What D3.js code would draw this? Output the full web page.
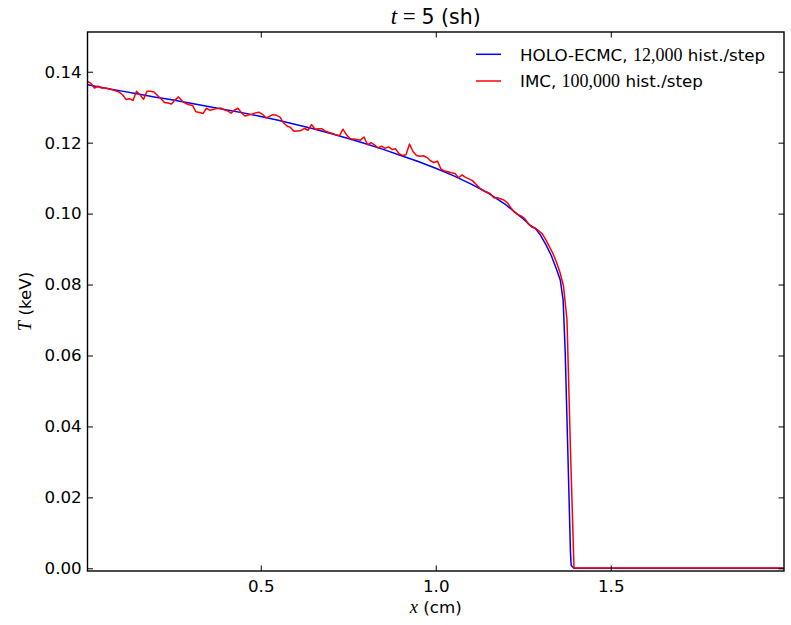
<!DOCTYPE html>
<html>
<head>
<meta charset="utf-8">
<script src="https://cdn.jsdelivr.net/npm/d3@7"></script>
<style>
  html, body { margin: 0; padding: 0; background: #fff; }
  svg { display: block; }
  .tick text { font-family: "DejaVu Sans", sans-serif; font-size: 16.7px; fill: #000; }
</style>
</head>
<body>
<svg id="chart" width="791" height="625"></svg>
<script>
// HOLO-ECMC solution: position (cm) and temperature (keV)
const holoX = [0.005, 0.05, 0.10, 0.15, 0.20, 0.25, 0.30, 0.35, 0.40, 0.45, 0.50,
  0.55, 0.60, 0.65, 0.70, 0.75, 0.80, 0.85, 0.90, 0.95, 1.00, 1.05, 1.10, 1.15,
  1.20, 1.25, 1.27, 1.285, 1.30, 1.315, 1.33, 1.345, 1.356, 1.364, 1.370, 1.375,
  1.380, 1.385, 1.387, 1.395, 1.995];
const holoT = [0.1363, 0.1355, 0.1346, 0.1337, 0.1328, 0.1320, 0.1311, 0.1302, 0.1293, 0.1284, 0.1274,
  0.1263, 0.1251, 0.1239, 0.1226, 0.1212, 0.1197, 0.1181, 0.1164, 0.1147, 0.1128, 0.1107, 0.1084, 0.1058,
  0.1025, 0.0985, 0.0967, 0.0958, 0.0938, 0.0912, 0.0882, 0.0843, 0.0812, 0.0756, 0.0606, 0.0418,
  0.0230, 0.0042, 0.0008, 0.0000, 0.0000];

// IMC solution on a uniform mesh of cell centres (dx = 0.01 cm), followed by the cold tail
const imcX0 = 0.005, imcDx = 0.01, imcXEnd = 1.995;
const imcT = [
  0.1373, 0.1367, 0.1354, 0.1359, 0.1354, 0.1354, 0.1352, 0.1349, 0.1346, 0.1343,
  0.1335, 0.1322, 0.1324, 0.1319, 0.1345, 0.1335, 0.1322, 0.1345, 0.1345, 0.1343,
  0.1333, 0.1324, 0.1313, 0.1312, 0.1309, 0.1320, 0.1329, 0.1318, 0.1311, 0.1307,
  0.1305, 0.1287, 0.1285, 0.1282, 0.1297, 0.1291, 0.1294, 0.1296, 0.1298, 0.1293,
  0.1290, 0.1283, 0.1292, 0.1297, 0.1284, 0.1275, 0.1278, 0.1280, 0.1284, 0.1286,
  0.1280, 0.1270, 0.1274, 0.1279, 0.1277, 0.1272, 0.1256, 0.1247, 0.1243, 0.1232,
  0.1233, 0.1234, 0.1240, 0.1235, 0.1251, 0.1238, 0.1239, 0.1239, 0.1232, 0.1229,
  0.1226, 0.1222, 0.1220, 0.1238, 0.1222, 0.1211, 0.1210, 0.1209, 0.1207, 0.1216,
  0.1194, 0.1200, 0.1194, 0.1185, 0.1190, 0.1184, 0.1188, 0.1181, 0.1183, 0.1169,
  0.1164, 0.1166, 0.1196, 0.1175, 0.1164, 0.1162, 0.1163, 0.1158, 0.1149, 0.1144,
  0.1148, 0.1125, 0.1120, 0.1118, 0.1115, 0.1113, 0.1101, 0.1109, 0.1102, 0.1098,
  0.1093, 0.1083, 0.1073, 0.1065, 0.1060, 0.1057, 0.1045, 0.1045, 0.1042, 0.1038,
  0.1030, 0.1016, 0.1004, 0.0997, 0.0993, 0.0985, 0.0970, 0.0962, 0.0958, 0.0951,
  0.0942, 0.0925, 0.0906, 0.0887, 0.0863, 0.0834, 0.0796, 0.0700, 0.0330, 0.0001
];
const imcTailT = 0.0001;

const xTicks = [0.5, 1.0, 1.5];
const yTicks = [0.00, 0.02, 0.04, 0.06, 0.08, 0.10, 0.12, 0.14];
const xDomain = [0.005, 1.995];
const yDomain = [-0.00076, 0.1512];

const seriesColors = { holo: "#0000ff", imc: "#ff0000" };

const margin = { left: 87.5, right: 7, top: 32, bottom: 54 };
const W = 791, H = 625;
const svg = d3.select("#chart");

const x = d3.scaleLinear().domain(xDomain).range([margin.left, W - margin.right]);
const y = d3.scaleLinear().domain(yDomain).range([H - margin.bottom, margin.top]);

const holo = holoX.map((v, i) => [v, holoT[i]]);
const imc = imcT.map((t, i) => [imcX0 + i * imcDx, t]);
imc.push([imcXEnd, imcTailT]);

svg.append("clipPath").attr("id", "plotclip")
  .append("rect")
  .attr("x", x.range()[0]).attr("y", y.range()[1])
  .attr("width", x.range()[1] - x.range()[0])
  .attr("height", y.range()[0] - y.range()[1]);

const line = d3.line().x(d => x(d[0])).y(d => y(d[1]));
const plot = svg.append("g").attr("clip-path", "url(#plotclip)");
plot.append("path").datum(holo).attr("d", line)
  .attr("fill", "none").attr("stroke", seriesColors.holo).attr("stroke-width", 1.5)
  .attr("stroke-linejoin", "round");
plot.append("path").datum(imc).attr("d", line)
  .attr("fill", "none").attr("stroke", seriesColors.imc).attr("stroke-width", 1.5)
  .attr("stroke-linejoin", "round");

// axes with inward ticks on all four sides
const tickLen = 5.5;
const gB = svg.append("g").attr("transform", `translate(0,${y.range()[0]})`)
  .call(d3.axisBottom(x).tickValues(xTicks).tickFormat(d3.format(".1f"))
    .tickSizeInner(-tickLen).tickSizeOuter(0).tickPadding(8.8));
const gT = svg.append("g").attr("transform", `translate(0,${y.range()[1]})`)
  .call(d3.axisTop(x).tickValues(xTicks).tickFormat("")
    .tickSizeInner(-tickLen).tickSizeOuter(0));
const gL = svg.append("g").attr("transform", `translate(${x.range()[0]},0)`)
  .call(d3.axisLeft(y).tickValues(yTicks).tickFormat(d3.format(".2f"))
    .tickSizeInner(-tickLen).tickSizeOuter(0).tickPadding(5.8));
const gR = svg.append("g").attr("transform", `translate(${x.range()[1]},0)`)
  .call(d3.axisRight(y).tickValues(yTicks).tickFormat("")
    .tickSizeInner(-tickLen).tickSizeOuter(0));
[gB, gT, gL, gR].forEach(g => {
  g.select(".domain").remove();
  g.selectAll(".tick line").attr("stroke", "#000").attr("stroke-width", 1);
});

// frame
svg.append("rect")
  .attr("x", x.range()[0]).attr("y", y.range()[1])
  .attr("width", x.range()[1] - x.range()[0])
  .attr("height", y.range()[0] - y.range()[1])
  .attr("fill", "none").attr("stroke", "#000").attr("stroke-width", 1.4);

const sans = "'DejaVu Sans', sans-serif";
const serif = "'Liberation Serif', 'DejaVu Serif', serif";
const cx = (x.range()[0] + x.range()[1]) / 2;

// title
const title = svg.append("text").attr("x", cx).attr("y", 24)
  .attr("text-anchor", "middle").attr("font-family", sans).attr("font-size", 20.5).attr("fill", "#000");
title.append("tspan").attr("font-family", serif).attr("font-style", "italic").attr("font-size", 23).text("t");
title.append("tspan").attr("font-family", serif).attr("font-size", 23).text(" = ");
title.append("tspan").text("5 (sh)");

// x label
const xl = svg.append("text").attr("x", cx).attr("y", 613)
  .attr("text-anchor", "middle").attr("font-family", sans).attr("font-size", 16.7).attr("fill", "#000");
xl.append("tspan").attr("font-family", serif).attr("font-style", "italic").attr("font-size", 18.5).text("x");
xl.append("tspan").text(" (cm)");

// y label
const cy = (y.range()[0] + y.range()[1]) / 2;
const yl = svg.append("text")
  .attr("transform", `translate(31,${cy}) rotate(-90)`)
  .attr("text-anchor", "middle").attr("font-family", sans).attr("font-size", 16.7).attr("fill", "#000");
yl.append("tspan").attr("font-family", serif).attr("font-style", "italic").attr("font-size", 18.5).text("T");
yl.append("tspan").text(" (keV)");

// legend
const legendItems = [
  { color: seriesColors.holo, pre: "HOLO-ECMC, ", num: "12,000", post: " hist./step" },
  { color: seriesColors.imc, pre: "IMC, ", num: "100,000", post: " hist./step" }
];
const lg = svg.append("g");
legendItems.forEach((it, i) => {
  const ly = 54.3 + i * 26.7;
  lg.append("line").attr("x1", 476).attr("x2", 501).attr("y1", ly).attr("y2", ly)
    .attr("stroke", it.color).attr("stroke-width", 1.5);
  const t = lg.append("text").attr("x", 520).attr("y", ly + 6.3)
    .attr("font-family", sans).attr("font-size", 16.7).attr("fill", "#000");
  t.append("tspan").text(it.pre);
  t.append("tspan").attr("font-family", serif).attr("font-size", 18).text(it.num);
  t.append("tspan").text(it.post);
});
</script>
</body>
</html>
